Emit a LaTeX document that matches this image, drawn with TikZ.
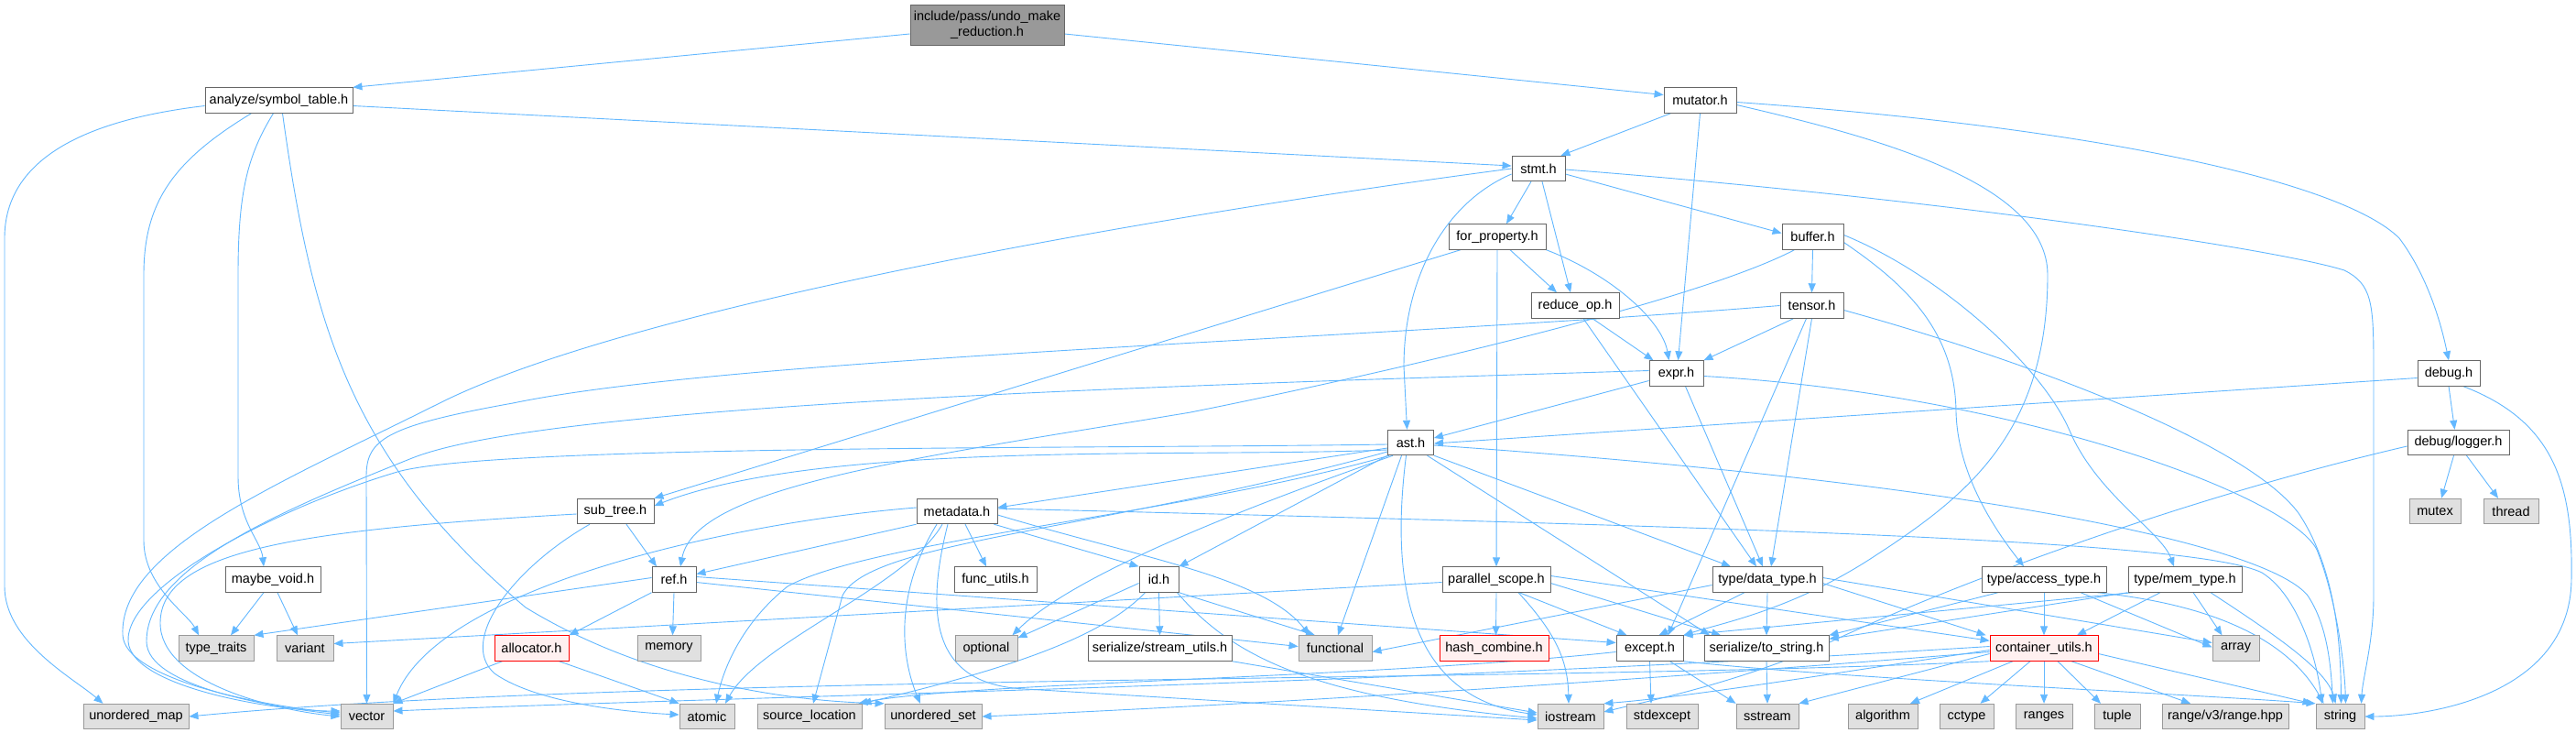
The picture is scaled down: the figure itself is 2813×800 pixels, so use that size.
\documentclass[tikz,border=0pt]{standalone}
\usepackage{fontspec}
\setmainfont{Liberation Sans}
\usetikzlibrary{arrows.meta}
\definecolor{edgeblue}{HTML}{63B8FF}
\definecolor{nodegray}{HTML}{666666}
\definecolor{sysgray}{HTML}{999999}
\definecolor{sysfill}{HTML}{E0E0E0}
\definecolor{redfill}{HTML}{FFF0F0}
\definecolor{rootfill}{HTML}{999999}
\pgfdeclarelayer{bgl}
\pgfdeclarelayer{edges}
\pgfsetlayers{bgl,edges,main}
\newcommand\labfont{\fontsize{14.5pt}{17pt}\selectfont}
\tikzset{
  box/.style={draw=nodegray, fill=white, line width=0.9pt, minimum height=27.5pt, inner sep=0pt, font=\labfont},
  sys/.style={box, draw=sysgray, fill=sysfill},
  redbox/.style={box, draw=red, fill=redfill},
  rootbox/.style={box, fill=rootfill, minimum height=44pt, align=center},
  e/.style={draw=edgeblue, line width=0.9pt, -{Triangle[length=10pt,width=8pt]}}
}
\begin{document}
\begin{tikzpicture}[x=1pt,y=-1pt]
\begin{pgfonlayer}{bgl}
\fill[white] (0,0) rectangle (2813,800);
\end{pgfonlayer}
\useasboundingbox (0,0) rectangle (2813,800);
% nodes
\node[rootbox, minimum width=168pt] (root) at (1078,27) {include/pass/undo\_make\\\_reduction.h};
\node[box, minimum width=161pt] (symtab) at (304.5,109.5) {analyze/symbol\_table.h};
\node[box, minimum width=79pt] (mutator) at (1856.5,109.5) {mutator.h};
\node[box, minimum width=58pt] (stmt) at (1680,184) {stmt.h};
\node[box, minimum width=106pt] (forprop) at (1635,258.5) {for\_property.h};
\node[box, minimum width=67pt] (buffer) at (1979.5,258.5) {buffer.h};
\node[box, minimum width=96pt] (reduceop) at (1720,333.5) {reduce\_op.h};
\node[box, minimum width=69pt] (tensor) at (1978.5,333.5) {tensor.h};
\node[box, minimum width=59pt] (expr) at (1830.5,407.5) {expr.h};
\node[box, minimum width=68pt] (debug) at (2674,407.5) {debug.h};
\node[box, minimum width=50pt] (ast) at (1540.5,483) {ast.h};
\node[box, minimum width=111pt] (logger) at (2684.5,483) {debug/logger.h};
\node[box, minimum width=84pt] (subtree) at (672,558) {sub\_tree.h};
\node[box, minimum width=88pt] (metadata) at (1045,558) {metadata.h};
\node[sys, minimum width=56pt] (mutex) at (2659,558) {mutex};
\node[sys, minimum width=60pt] (thread) at (2742,558) {thread};
\node[box, minimum width=104pt] (maybevoid) at (298,632.5) {maybe\_void.h};
\node[box, minimum width=48pt] (ref) at (736,632.5) {ref.h};
\node[box, minimum width=90pt] (funcutils) at (1087,632.5) {func\_utils.h};
\node[box, minimum width=43pt] (id) at (1265.5,632.5) {id.h};
\node[box, minimum width=118pt] (pscope) at (1634,632.5) {parallel\_scope.h};
\node[box, minimum width=120pt] (datatype) at (1930,632.5) {type/data\_type.h};
\node[box, minimum width=136pt] (accesstype) at (2232,632.5) {type/access\_type.h};
\node[box, minimum width=124pt] (memtype) at (2386,632.5) {type/mem\_type.h};
\node[sys, minimum width=82pt] (typetraits) at (236,707.5) {type\_traits};
\node[sys, minimum width=62pt] (variant) at (333,707.5) {variant};
\node[redbox, minimum width=81pt] (allocator) at (580.5,707.5) {allocator.h};
\node[sys, minimum width=69pt] (memory) at (730.5,707.5) {memory};
\node[sys, minimum width=68pt] (optional) at (1077,707.5) {optional};
\node[box, minimum width=157pt] (streamutils) at (1266.5,707.5) {serialize/stream\_utils.h};
\node[sys, minimum width=80pt] (functional) at (1458,707.5) {functional};
\node[redbox, minimum width=119pt] (hashcombine) at (1631.5,707.5) {hash\_combine.h};
\node[box, minimum width=73pt] (except) at (1801.5,707.5) {except.h};
\node[box, minimum width=136pt] (tostring) at (1929,707.5) {serialize/to\_string.h};
\node[redbox, minimum width=118pt] (containerutils) at (2232,707.5) {container\_utils.h};
\node[sys, minimum width=51pt] (array) at (2441.5,707.5) {array};
\node[sys, minimum width=115pt] (umap) at (148.5,782) {unordered\_map};
\node[sys, minimum width=57pt] (vector) at (400.5,782) {vector};
\node[sys, minimum width=60pt] (atomic) at (772,782) {atomic};
\node[sys, minimum width=114pt] (srcloc) at (884,782) {source\_location};
\node[sys, minimum width=106pt] (uset) at (1019,782) {unordered\_set};
\node[sys, minimum width=72pt] (iostream) at (1715,782) {iostream};
\node[sys, minimum width=78pt] (stdexcept) at (1815,782) {stdexcept};
\node[sys, minimum width=68pt] (sstream) at (1930,782) {sstream};
\node[sys, minimum width=76pt] (algorithm) at (2056,782) {algorithm};
\node[sys, minimum width=59pt] (cctype) at (2147.5,782) {cctype};
\node[sys, minimum width=62pt] (ranges) at (2232,782) {ranges};
\node[sys, minimum width=50pt] (tuple) at (2312,782) {tuple};
\node[sys, minimum width=138pt] (rangev3) at (2430,782) {range/v3/range.hpp};
\node[sys, minimum width=53pt] (string) at (2555.5,782) {string};
% edges
\begin{pgfonlayer}{edges}
% root
\draw[e] ([yshift=-10pt]root.west) -- (symtab.north east);
\draw[e] ([yshift=-10pt]root.east) -- ([yshift=6pt]mutator.west);
% symbol table
\draw[e] ([yshift=-6pt]symtab.east) -- ([yshift=3pt]stmt.west);
\draw[e] ([yshift=-6pt]symtab.west) .. controls (100,130) and (5,170) .. (5,260) -- (5,640) .. controls (5,700) and (80,740) .. ([xshift=-36pt]umap.north);
\draw[e] ([xshift=-30pt]symtab.south) .. controls (190,175) and (157,220) .. (157,300) -- (157,590) .. controls (157,640) and (205,670) .. ([xshift=-19pt]typetraits.north);
\draw[e] ([xshift=-6pt]symtab.south) .. controls (270,170) and (260,210) .. (260,300) -- (260,520) .. controls (260,570) and (285,590) .. ([xshift=-10pt]maybevoid.north);
\draw[e] ([xshift=4pt]symtab.south) .. controls (340,350) and (380,500) .. (574,663) .. controls (700,740) and (850,765) .. (uset.north west);
% mutator
\draw[e] ([xshift=8pt]mutator.south west) -- ([xshift=-5pt]stmt.north east);
\draw[e] (mutator.south) -- ([xshift=2pt]expr.north);
\draw[e] ([yshift=-5pt]mutator.east) .. controls (2050,150) and (2236,200) .. (2236,300) .. controls (2236,470) and (2150,540) .. (2050,605) .. controls (1960,665) and (1880,680) .. (except.north east);
\draw[e] ([yshift=-2pt]mutator.east) .. controls (2300,140) and (2560,200) .. (2620,260) .. controls (2650,300) and (2665,350) .. (debug.north);
% stmt
\draw[e] (stmt.west) .. controls (1300,230) and (700,330) .. (480,440) .. controls (300,530) and (130,600) .. (134,693) .. controls (136,740) and (280,770) .. ([yshift=4pt]vector.west);
\draw[e] ([yshift=-6pt]stmt.west) .. controls (1580,220) and (1533,300) .. (1533,400) -- ([xshift=-4pt]ast.north);
\draw[e] ([xshift=-8pt]stmt.south) -- ([xshift=10pt]forprop.north);
\draw[e] ([xshift=4pt]stmt.south) -- ([xshift=-5pt]reduceop.north);
\draw[e] ([yshift=-6pt]stmt.east) -- ([yshift=4pt]buffer.west);
\draw[e] ([yshift=-1pt]stmt.east) .. controls (2100,215) and (2480,270) .. (2560,295) .. controls (2590,310) and (2592,330) .. (2592,400) -- (2592,650) .. controls (2592,700) and (2580,740) .. ([xshift=23pt]string.north);
% for_property
\draw[e] ([xshift=-40pt]forprop.south) -- (subtree.north east);
\draw[e] (forprop.south) -- (pscope.north);
\draw[e] ([xshift=14pt]forprop.south) -- ([xshift=-20pt]reduceop.north);
\draw[e] (forprop.south east) .. controls (1760,300) and (1815,350) .. ([xshift=-8pt]expr.north);
% reduce_op
\draw[e] ([xshift=19pt]reduceop.south) -- ([xshift=-25pt]expr.north);
\draw[e] ([xshift=9pt]reduceop.south) -- ([xshift=-12pt]datatype.north);
% buffer
\draw[e] (buffer.south) -- (tensor.north);
\draw[e] ([xshift=-20pt]buffer.south) .. controls (1850,330) and (1500,410) .. (1300,450) .. controls (1000,500) and (760,530) .. ([xshift=7pt]ref.north);
\draw[e] ([yshift=-6pt]buffer.east) .. controls (2080,310) and (2135,360) .. (2136,450) .. controls (2138,520) and (2180,580) .. ([xshift=-22pt]accesstype.north);
\draw[e] ([yshift=2pt]buffer.east) .. controls (2120,300) and (2230,400) .. (2260,470) .. controls (2290,540) and (2360,580) .. ([xshift=-12pt]memtype.north);
% tensor
\draw[e] (tensor.west) .. controls (1500,370) and (800,390) .. (560,440) .. controls (420,465) and (400,480) .. (400,520) -- (vector.north);
\draw[e] ([xshift=-20pt]tensor.south) -- (expr.north east);
\draw[e] (tensor.south) -- ([xshift=4pt]datatype.north);
\draw[e] ([xshift=-6pt]tensor.south) -- ([xshift=20pt]except.north);
\draw[e] ([yshift=-5pt]tensor.east) .. controls (2200,390) and (2450,480) .. (2510,560) .. controls (2550,620) and (2556,700) .. ([xshift=1pt]string.north);
% expr
\draw[e] ([yshift=-8pt]expr.west) -- ([yshift=5pt]ast.east);
\draw[e] ([xshift=10pt]expr.south) -- ([xshift=-5pt]datatype.north);
\draw[e] ([yshift=-3pt]expr.east) .. controls (2200,430) and (2500,540) .. (2530,600) .. controls (2550,650) and (2560,720) .. ([xshift=6pt]string.north);
\draw[e] ([yshift=3pt]expr.west) .. controls (1300,420) and (600,440) .. (450,500) .. controls (300,560) and (160,620) .. (160,700) .. controls (160,750) and (300,772) .. ([yshift=2pt]vector.west);
% debug
\draw[e] ([yshift=-5pt]debug.west) -- ([yshift=-1pt]ast.east);
\draw[e] (debug.south) -- ([xshift=-4pt]logger.north);
\draw[e] ([xshift=16pt]debug.south) .. controls (2790,460) and (2810,530) .. (2808,633) .. controls (2806,760) and (2650,782) .. (string.east);
% logger
\draw[e] ([xshift=-5pt]logger.south) -- ([xshift=7pt]mutex.north);
\draw[e] ([xshift=9pt]logger.south) -- ([xshift=-14pt]thread.north);
\draw[e] ([yshift=-4pt]logger.west) .. controls (2400,540) and (2150,630) .. (2000,700) .. controls (1900,745) and (1800,765) .. ([yshift=5pt]iostream.east);
% ast
\draw[e] ([yshift=-8pt]ast.west) .. controls (1300,500) and (900,480) .. ([yshift=6pt]subtree.east);
\draw[e] ([yshift=-6pt]ast.west) -- ([yshift=4pt]metadata.east);
\draw[e] ([yshift=-2pt]ast.west) .. controls (1200,490) and (540,485) .. (434,515) .. controls (300,555) and (137,640) .. (140,700) .. controls (143,750) and (300,776) .. ([yshift=6pt]vector.west);
\draw[e] (ast.south west) -- (id.north east);
\draw[e] ([xshift=6pt]ast.south west) .. controls (1400,540) and (1180,620) .. ([xshift=-6pt]optional.north east);
\draw[e] ([xshift=-10pt]ast.south) -- ([xshift=3pt]functional.north);
\draw[e] ([xshift=-5pt]ast.south) .. controls (1520,620) and (1530,760) .. ([yshift=2pt]iostream.west);
\draw[e] ([xshift=2pt]ast.south west) .. controls (1300,560) and (950,590) .. (860,640) .. controls (810,680) and (790,730) .. ([xshift=10pt]atomic.north);
\draw[e] ([yshift=-10pt]ast.west) .. controls (1200,580) and (950,590) .. (920,650) -- ([xshift=4pt]srcloc.north);
\draw[e] (ast.south east) -- ([xshift=-40pt]datatype.north);
\draw[e] ([xshift=18pt]ast.south) -- ([xshift=-62pt]tostring.north);
\draw[e] ([yshift=-3pt]ast.east) .. controls (2200,530) and (2480,600) .. (2520,650) .. controls (2540,680) and (2545,720) .. ([xshift=-8pt]string.north);
% sub_tree
\draw[e] ([xshift=12pt]subtree.south) -- ([xshift=-19pt]ref.north);
\draw[e] ([yshift=-3pt]subtree.west) .. controls (330,578) and (175,600) .. (175,680) .. controls (175,745) and (300,775) .. (vector.west);
\draw[e] ([xshift=-28pt]subtree.south) .. controls (560,620) and (500,700) .. (540,735) .. controls (590,770) and (700,778) .. ([yshift=2pt]atomic.west);
% metadata
\draw[e] (metadata.south west) -- ([yshift=6pt]ref.east);
\draw[e] ([yshift=4pt]metadata.west) .. controls (800,570) and (480,640) .. (vector.north east);
\draw[e] ([xshift=9pt]metadata.south) -- ([xshift=-10pt]funcutils.north);
\draw[e] ([xshift=-4pt]metadata.south east) -- (id.north west);
\draw[e] ([yshift=-4pt]metadata.east) .. controls (1250,610) and (1380,630) .. ([xshift=-28pt]functional.north);
\draw[e] ([yshift=3pt]metadata.east) .. controls (1900,575) and (2400,590) .. (2470,625) .. controls (2510,650) and (2530,720) .. ([xshift=-20pt]string.north);
\draw[e] ([xshift=-16pt]metadata.south) .. controls (990,640) and (830,700) .. ([xshift=20pt]atomic.north);
\draw[e] ([xshift=-22pt]metadata.south) .. controls (975,650) and (985,720) .. ([xshift=-14pt]uset.north);
\draw[e] ([xshift=-10pt]metadata.south) .. controls (1005,690) and (1030,748) .. (1120,752) -- ([yshift=-4pt]iostream.west);
% ref
\draw[e] (ref.south) -- ([xshift=4pt]memory.north);
\draw[e] (ref.south west) -- (allocator.north east);
\draw[e] ([yshift=2pt]ref.west) -- (typetraits.north east);
\draw[e] ([yshift=-3pt]ref.east) -- ([yshift=2pt]functional.west);
\draw[e] ([yshift=3pt]ref.east) -- ([yshift=6pt]except.west);
% allocator
\draw[e] ([xshift=-32pt]allocator.south) -- (vector.north east);
\draw[e] ([xshift=30pt]allocator.south) -- (atomic.north west);
% maybe_void
\draw[e] ([xshift=-10pt]maybevoid.south) -- ([xshift=16pt]typetraits.north);
\draw[e] ([xshift=5pt]maybevoid.south) -- ([xshift=-8pt]variant.north);
% id
\draw[e] ([yshift=-4pt]id.west) -- ([yshift=-3pt]optional.north east);
\draw[e] (id.south) -- (streamutils.north);
\draw[e] (id.south east) -- ([xshift=-22pt]functional.north);
\draw[e] ([xshift=-2pt]id.south east) .. controls (1340,710) and (1420,760) .. ([yshift=-2pt]iostream.west);
\draw[e] ([xshift=-15pt]id.south) .. controls (1200,700) and (1080,735) .. (srcloc.north east);
% stream_utils
\draw[e] (streamutils.south east) -- ([yshift=4pt]iostream.west);
% parallel_scope
\draw[e] (pscope.south) -- ([xshift=2pt]hashcombine.north);
\draw[e] ([yshift=-3pt]pscope.west) -- ([yshift=5pt]variant.east);
\draw[e] ([xshift=25pt]pscope.south) -- ([xshift=-25pt]except.north);
\draw[e] ([yshift=-4pt]pscope.east) -- ([xshift=-50pt]tostring.north);
\draw[e] ([yshift=4pt]pscope.east) -- ([yshift=-6pt]containerutils.north west);
\draw[e] ([xshift=24pt]pscope.south) .. controls (1698,690) and (1712,720) .. ([xshift=-2pt]iostream.north);
% data_type
\draw[e] ([xshift=-25pt]datatype.south) -- ([xshift=10pt]except.north);
\draw[e] (datatype.south) -- (tostring.north);
\draw[e] ([yshift=-4pt]datatype.east) -- ([xshift=-4pt]containerutils.north west);
\draw[e] ([yshift=2pt]datatype.east) -- ([yshift=6pt]array.west);
\draw[e] ([yshift=-6pt]datatype.west) -- ([yshift=-4pt]functional.east);
% access_type
\draw[e] ([xshift=-50pt]accesstype.south) -- (tostring.north east);
\draw[e] (accesstype.south) -- (containerutils.north);
\draw[e] ([xshift=40pt]accesstype.south) -- ([yshift=1pt]array.west);
\draw[e] ([xshift=58pt]accesstype.south) .. controls (2420,660) and (2500,700) .. ([xshift=-18pt]string.north);
% mem_type
\draw[e] ([xshift=-27pt]memtype.south) -- ([xshift=36pt]containerutils.north);
\draw[e] ([xshift=9pt]memtype.south) -- ([xshift=-15pt]array.north);
\draw[e] ([xshift=28pt]memtype.south) .. controls (2480,690) and (2540,730) .. ([xshift=-5pt]string.north);
\draw[e] (memtype.south west) -- ([yshift=-4pt]tostring.north east);
\draw[e] ([xshift=6pt]memtype.south west) -- (except.north east);
% except
\draw[e] (except.south) -- ([xshift=-12pt]stdexcept.north);
\draw[e] ([xshift=22pt]except.south) -- (sstream.north west);
\draw[e] (except.south east) .. controls (2000,740) and (2400,758) .. (string.north west);
\draw[e] ([yshift=-4pt]except.west) .. controls (1500,740) and (1050,745) .. ([xshift=-4pt]srcloc.north east);
% to_string
\draw[e] (tostring.south) -- (sstream.north);
% container_utils
\draw[e] ([xshift=-34pt]containerutils.south) -- ([xshift=30pt]algorithm.north);
\draw[e] ([xshift=-15pt]containerutils.south) -- ([xshift=15pt]cctype.north);
\draw[e] (containerutils.south) -- (ranges.north);
\draw[e] ([xshift=15pt]containerutils.south) -- ([xshift=-18pt]tuple.north);
\draw[e] ([xshift=30pt]containerutils.south) -- ([xshift=-38pt]rangev3.north);
\draw[e] ([yshift=-6pt]containerutils.east) -- ([xshift=-4pt]string.north west);
\draw[e] ([yshift=-6pt]containerutils.west) -- (sstream.north east);
\draw[e] ([yshift=-2pt]containerutils.west) .. controls (2000,735) and (1850,760) .. (iostream.north east);
\draw[e] ([yshift=2pt]containerutils.west) .. controls (1500,748) and (800,760) .. ([yshift=6pt]vector.east);
\draw[e] (containerutils.south west) .. controls (1700,745) and (700,735) .. (umap.east);
\draw[e] ([yshift=-4pt]containerutils.west) .. controls (1700,750) and (1300,772) .. (uset.east);
\end{pgfonlayer}
\end{tikzpicture}
\end{document}
